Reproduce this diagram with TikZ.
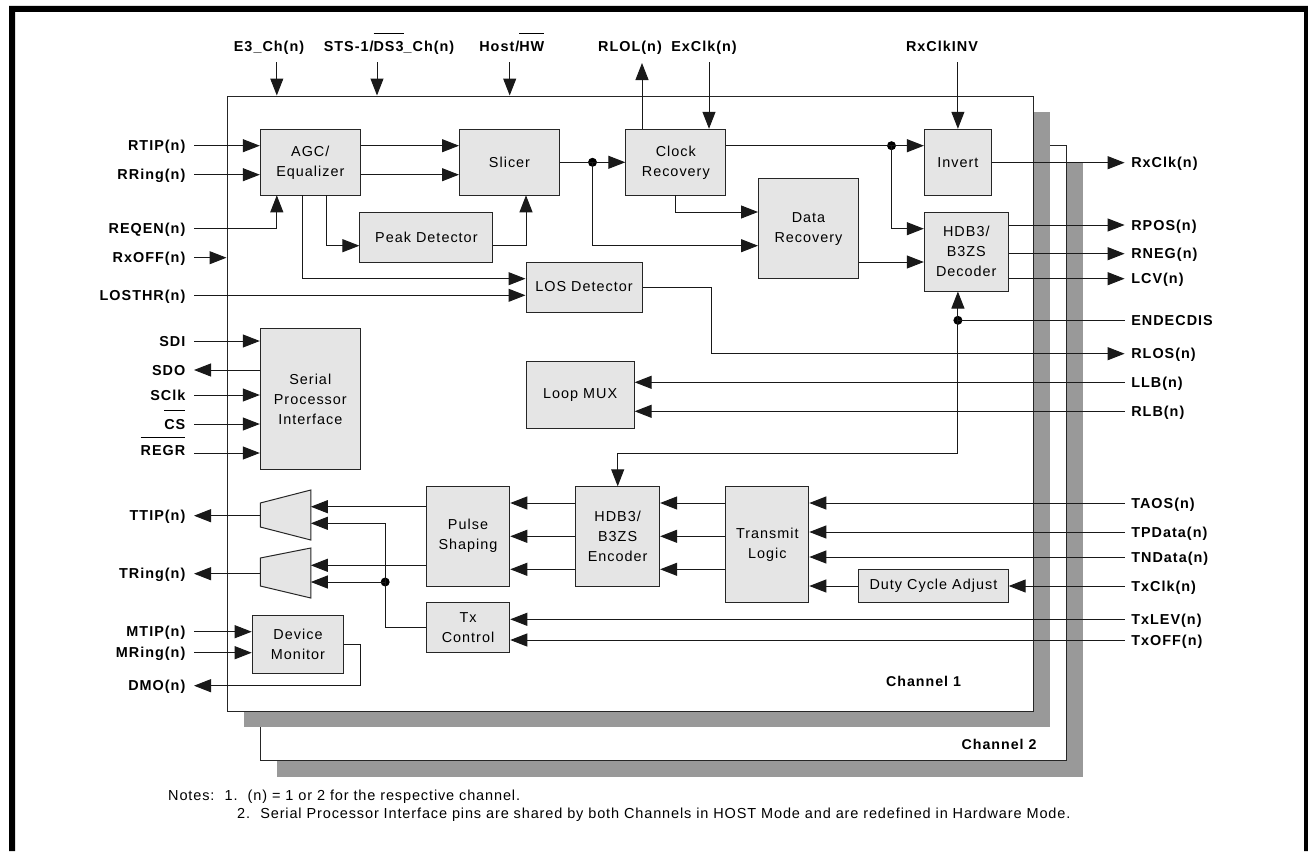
\documentclass[tikz,border=0pt]{standalone}
\usepackage{fontspec}
\setmainfont[LetterSpace=7]{Liberation Sans}
\newfontfamily\notefont[LetterSpace=6]{Liberation Sans}
\usetikzlibrary{arrows.meta}
\newcommand{\ovbar}[1]{\ensuremath{\overline{\mbox{\rule{0pt}{17pt}#1}}}}
\begin{document}
\begin{tikzpicture}[x=1pt,y=-1pt,line cap=butt,
  blk/.style={draw=black!85,fill=black!10,line width=1pt,inner sep=0pt,align=center,
    font=\fontsize{14.4}{20}\selectfont},
  blkd/.style={blk,execute at begin node=\rule{0pt}{13pt}},
  frm/.style={draw=black!85,fill=white,line width=1pt,inner sep=0pt},
  shd/.style={fill=black!40,inner sep=0pt},
  pin/.style={font=\fontsize{14.4}{16}\selectfont\bfseries,inner ysep=0pt,text height=10pt,text depth=0pt},
  pinl/.style={pin,anchor=east,inner xsep=8.5pt},
  pinr/.style={pin,anchor=west,inner xsep=6.5pt},
  jdot/.style={circle,fill=black,inner sep=0pt,minimum size=9pt},
  wire/.style={draw=black!90,line width=1pt},
  sig/.style={wire,-{Triangle[length=17pt,width=13pt]}}]
  \useasboundingbox (0,0) rectangle (1308,851);
  % page rules, open at the bottom
  \fill[black] (9,851) -- (9,6) -- (1308,6) -- (1308,851) -- (1304,851) -- (1304,12) -- (15,12) -- (15,851) -- cycle;

  % channel frames, back to front
  \node[shd,minimum width=806pt,minimum height=615pt] (shtwo) at (680.2,469.7) {};
  \node[frm,minimum width=806pt,minimum height=615pt] (chtwo) at (663.3,453) {};
  \node[shd,minimum width=806pt,minimum height=615pt] (shone) at (647,419.5) {};
  \node[frm,minimum width=806pt,minimum height=615pt] (chone) at (630,403.5) {};
  \node[font=\fontsize{14.2}{16}\selectfont\bfseries] (lblone) at (923.6,681.7) {Channel 1};
  \node[font=\fontsize{14.2}{16}\selectfont\bfseries] (lbltwo) at (999,744.3) {Channel 2};

  % blocks
  \node[blkd,minimum width=100pt,minimum height=66pt] (agc) at (310.3,162.3) {AGC/\\Equalizer};
  \node[blk,minimum width=100pt,minimum height=66pt] (slicer) at (509.5,162.3) {Slicer};
  \node[blkd,minimum width=100pt,minimum height=66pt] (clock) at (675.8,162.3) {Clock\\Recovery};
  \node[blk,minimum width=133pt,minimum height=50pt] (peak) at (426.4,237) {Peak Detector};
  \node[blk,minimum width=116pt,minimum height=50pt] (los) at (584,287) {LOS Detector};
  \node[blkd,minimum width=100pt,minimum height=100pt] (data) at (808.5,228.7) {Data\\Recovery};
  \node[blk,minimum width=67pt,minimum height=66pt] (invert) at (957.9,162.3) {Invert};
  \node[blk,minimum width=84pt,minimum height=79pt] (dec) at (966.3,251.5) {HDB3/\\B3ZS\\Decoder};
  \node[blk,minimum width=100pt,minimum height=141pt] (spi) at (310.3,399.2) {Serial\\Processor\\Interface};
  \node[blk,minimum width=108pt,minimum height=66.6pt] (loop) at (580.1,395) {Loop MUX};
  \node[blkd,minimum width=83.5pt,minimum height=99.7pt] (pulse) at (468,536.2) {Pulse\\Shaping};
  \node[blk,minimum width=84pt,minimum height=99.7pt] (enc) at (617.6,536.2) {HDB3/\\B3ZS\\Encoder};
  \node[blkd,minimum width=83pt,minimum height=116.4pt] (txl) at (767.3,544.5) {Transmit\\Logic};
  \node[blk,minimum width=149.6pt,minimum height=33.4pt] (duty) at (933.4,586) {Duty Cycle Adjust};
  \node[blk,minimum width=83.5pt,minimum height=50pt] (txc) at (468,627.7) {Tx\\Control};
  \node[blk,minimum width=91.6pt,minimum height=58.3pt] (mon) at (298,644.2) {Device\\Monitor};
  \draw[blk] (260.3,503) -- (310.8,490) -- (310.8,540) -- (260.3,527) -- cycle;
  \draw[blk] (260.3,558) -- (310.8,548) -- (310.8,598) -- (260.3,586) -- cycle;
  \coordinate (muxa) at (310.8,515);
  \coordinate (muxb) at (310.8,573);
  \coordinate (muxain) at (260.3,515.7);
  \coordinate (muxbin) at (260.3,573.7);

  % pins on the left
  \node[pinl] (rtip) at (194,145.7) {RTIP(n)};
  \node[pinl] (rring) at (194,174.7) {RRing(n)};
  \node[pinl] (reqen) at (194,228.7) {REQEN(n)};
  \node[pinl] (rxoff) at (194,257.7) {RxOFF(n)};
  \node[pinl] (losthr) at (194,295.3) {LOSTHR(n)};
  \node[pinl] (sdi) at (194,341) {SDI};
  \node[pinl] (sdo) at (194,370) {SDO};
  \node[pinl] (sclk) at (194,395) {SClk};
  \node[pinl] (cs) at (194,424) {\ovbar{CS}};
  \node[pinl,text depth=5pt] (regr) at (194,453) {\ovbar{REGR}};
  \node[pinl] (ttip) at (194,515.7) {TTIP(n)};
  \node[pinl] (tring) at (194,573.7) {TRing(n)};
  \node[pinl] (mtip) at (194,631.7) {MTIP(n)};
  \node[pinl] (mring) at (194,652.7) {MRing(n)};
  \node[pinl] (dmo) at (194,685.7) {DMO(n)};

  % pins on the top
  \node[pin] (e3) at (269,46.7) {E3\_Ch(n)};
  \node[pin] (sts) at (389,46.7) {STS-1/\ovbar{DS3}\_Ch(n)};
  \node[pin] (host) at (511.8,46.7) {Host/\ovbar{HW}};
  \node[pin] (rlol) at (630,46.7) {RLOL(n)};
  \node[pin] (exclk) at (704,46.7) {ExClk(n)};
  \node[pin] (rxinv) at (942,46.7) {RxClkINV};
  \coordinate (e3x) at (276.8,62.5);
  \coordinate (stsx) at (377,62.5);
  \coordinate (hostx) at (509.7,62.5);
  \coordinate (rlolx) at (642,63);
  \coordinate (exclkx) at (709,62.5);
  \coordinate (rxinvx) at (957.9,62.5);

  % pins on the right
  \node[pinr] (rxclk) at (1124.6,162.7) {RxClk(n)};
  \node[pinr] (rpos) at (1124.6,225) {RPOS(n)};
  \node[pinr] (rneg) at (1124.6,253.7) {RNEG(n)};
  \node[pinr] (lcv) at (1124.6,278.7) {LCV(n)};
  \node[pinr] (endec) at (1124.6,320.3) {ENDECDIS};
  \node[pinr] (rlos) at (1124.6,353.7) {RLOS(n)};
  \node[pinr] (llb) at (1124.6,382.3) {LLB(n)};
  \node[pinr] (rlb) at (1124.6,411.3) {RLB(n)};
  \node[pinr] (taos) at (1124.6,503) {TAOS(n)};
  \node[pinr] (tpd) at (1124.6,532) {TPData(n)};
  \node[pinr] (tnd) at (1124.6,557) {TNData(n)};
  \node[pinr] (txclk) at (1124.6,586) {TxClk(n)};
  \node[pinr] (txlev) at (1124.6,619.3) {TxLEV(n)};
  \node[pinr] (txoff) at (1124.6,640) {TxOFF(n)};

  % inputs from the left and the top
  \draw[sig] (rtip.east) -- (rtip.east -| agc.west);
  \draw[sig] (rring.east) -- (rring.east -| agc.west);
  \draw[sig] (reqen.east) -| (276.8,195.3);
  \draw[sig] (rxoff.east) -- (rxoff.east -| chone.west);
  \draw[sig] (losthr.east) -- (losthr.east -| los.west);
  \draw[sig] (sdi.east) -- (sdi.east -| spi.west);
  \draw[sig] (sdo.east -| spi.west) -- (sdo.east);
  \draw[sig] (sclk.east) -- (sclk.east -| spi.west);
  \draw[sig] (cs.east) -- (cs.east -| spi.west);
  \draw[sig] (regr.east) -- (regr.east -| spi.west);
  \draw[sig] (muxain) -- (ttip.east);
  \draw[sig] (muxbin) -- (tring.east);
  \draw[sig] (mtip.east) -- (mtip.east -| mon.west);
  \draw[sig] (mring.east) -- (mring.east -| mon.west);
  \draw[sig] (mon.east |- 0,644) -- (360.3,644) |- (dmo.east);
  \draw[sig] (e3x) -- (e3x |- chone.north);
  \draw[sig] (stsx) -- (stsx |- chone.north);
  \draw[sig] (hostx) -- (hostx |- chone.north);
  \draw[sig] (rlolx |- clock.north) -- (rlolx);
  \draw[sig] (exclkx) -- (exclkx |- clock.north);
  \draw[sig] (rxinvx) -- (rxinvx |- invert.north);

  % receive path
  \node[jdot] (jslc) at (592.5,162.3) {};
  \node[jdot] (jclk) at (891.5,145.7) {};
  \node[jdot] (jend) at (957.9,320.3) {};
  \draw[sig] (agc.east |- rtip) -- (slicer.west |- rtip);
  \draw[sig] (agc.east |- rring) -- (slicer.west |- rring);
  \draw[wire] (slicer.east) -- (jslc.center);
  \draw[sig] (jslc.center) -- (clock.west);
  \draw[sig] (326.6,195.3) |- (peak.west |- 0,245.7);
  \draw[sig] (peak.east |- 0,245.7) -| (526,195.3);
  \draw[sig] (302,195.3) |- (los.west |- 0,278.7);
  \draw[sig] (jslc.center) |- (data.west |- 0,245.7);
  \draw[sig] (675.6,195.3) |- (data.west |- 0,212);
  \draw[wire] (clock.east |- jclk) -- (jclk.center);
  \draw[sig] (jclk.center) -- (jclk -| invert.west);
  \draw[sig] (jclk.center) |- (dec.west |- 0,228.7);
  \draw[sig] (data.east |- 0,262) -- (dec.west |- 0,262);
  \draw[sig] (los.east) -- (711,287) -- (711,353.7) -- (rlos.west);

  % outputs and control on the right
  \draw[sig] (rxclk.west -| invert.east) -- (rxclk.west);
  \draw[sig] (rpos.west -| dec.east) -- (rpos.west);
  \draw[sig] (rneg.west -| dec.east) -- (rneg.west);
  \draw[sig] (lcv.west -| dec.east) -- (lcv.west);
  \draw[wire] (endec.west) -- (jend.center);
  \draw[sig] (jend.center) -- (jend |- dec.south);
  \draw[sig] (jend.center) |- (617.7,453) -- (617.7,486.3);
  \draw[sig] (llb.west) -- (llb.west -| loop.east);
  \draw[sig] (rlb.west) -- (rlb.west -| loop.east);

  % transmit path
  \draw[sig] (taos.west) -- (taos.west -| txl.east);
  \draw[sig] (tpd.west) -- (tpd.west -| txl.east);
  \draw[sig] (tnd.west) -- (tnd.west -| txl.east);
  \draw[sig] (txclk.west) -- (txclk.west -| duty.east);
  \draw[sig] (duty.west) -- (duty.west -| txl.east);
  \draw[sig] (txlev.west) -- (txlev.west -| txc.east);
  \draw[sig] (txoff.west) -- (txoff.west -| txc.east);
  \draw[sig] (txl.west |- taos) -- (enc.east |- taos);
  \draw[sig] (txl.west |- 0,536.3) -- (enc.east |- 0,536.3);
  \draw[sig] (txl.west |- 0,569.3) -- (enc.east |- 0,569.3);
  \draw[sig] (enc.west |- taos) -- (pulse.east |- taos);
  \draw[sig] (enc.west |- 0,536.3) -- (pulse.east |- 0,536.3);
  \draw[sig] (enc.west |- 0,569.3) -- (pulse.east |- 0,569.3);
  \draw[sig] (pulse.west |- 0,506.7) -- (muxa |- 0,506.7);
  \draw[sig] (pulse.west |- 0,565.3) -- (muxb |- 0,565.3);
  \node[jdot] (jtx) at (385.2,582) {};
  \draw[sig] (txc.west) -| (jtx.center) |- (muxa |- 0,523.3);
  \draw[sig] (jtx.center) -- (muxb |- jtx);

  % notes
  \node[anchor=west,inner sep=0pt,font=\fontsize{14.5}{16}\notefont] (notea) at (168,797) {Notes:\hspace{0.7em}1.\hspace{0.7em}(n) = 1 or 2 for the respective channel.};
  \node[anchor=west,inner sep=0pt,font=\fontsize{14.5}{16}\notefont] (noteb) at (237,815) {2.\hspace{0.7em}Serial Processor Interface pins are shared by both Channels in HOST Mode and are redefined in Hardware Mode.};
\end{tikzpicture}
\end{document}
